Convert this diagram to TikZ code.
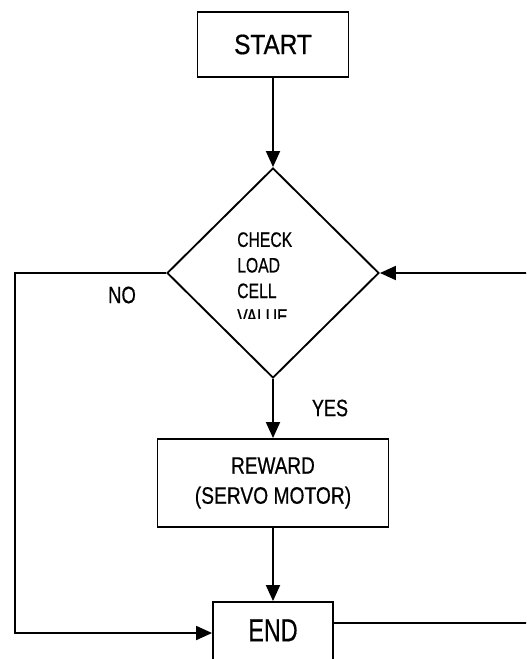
\documentclass[tikz,border=0pt]{standalone}
\usepackage{fontspec}
\setmainfont[FakeBold=0.6]{Liberation Sans}
\usetikzlibrary{shapes.geometric,arrows.meta}
\begin{document}
\begin{tikzpicture}[x=0.75pt,y=-0.75pt,
  box/.style={draw,line width=1.4pt,inner sep=0pt,rectangle},
  flow/.style={line width=1.4pt,-{Triangle[length=12pt,width=10.5pt]}},
  plain/.style={line width=1.4pt},
  lbl/.style={inner sep=0pt,text=black}]
\useasboundingbox (0,0) rectangle (526,659);
\clip (0,0) rectangle (526,659);
\fill[white] (0,0) rectangle (526,659);
\node[box,minimum width=113.25pt,minimum height=48.75pt,font=\fontsize{21}{25}\selectfont] (start) at (273,44.5)
  {\scalebox{0.87}[1]{START}};
\node[draw,line width=1.4pt,shape=diamond,inner sep=0pt,minimum width=159pt,minimum height=157.5pt] (dec) at (273,273) {};
\node[box,minimum width=173.25pt,minimum height=66pt,align=center,font=\fontsize{17.8}{22.5}\selectfont] (reward) at (273,483)
  {\scalebox{0.8}[1]{REWARD}\\\scalebox{0.81}[1]{(SERVO MOTOR)}};
\node[box,minimum width=90pt,minimum height=46.5pt,font=\fontsize{24}{28}\selectfont] (end) at (273,633)
  {\raisebox{4pt}{\scalebox{0.73}[1]{END}}};
\begin{scope}
  \clip (200,225) rectangle (360,318);
  \node[lbl,align=left,anchor=north west,font=\fontsize{15.7}{19.2}\selectfont] (dtext) at (237,232)
    {\scalebox{0.75}[1]{CHECK}\\\scalebox{0.75}[1]{LOAD}\\\scalebox{0.75}[1]{CELL}\\\scalebox{0.75}[1]{VALUE}};
\end{scope}
\node[lbl,font=\fontsize{17.8}{20}\selectfont] (no) at (122,295) {\scalebox{0.78}[1]{NO}};
\node[lbl,font=\fontsize{17.8}{20}\selectfont] (yes) at (330,408) {\scalebox{0.76}[1]{YES}};
\coordinate (nc) at (15,273);
\coordinate (rc) at (534,623);
\draw[flow] (start) -- (dec);
\draw[flow] (dec) -- (reward);
\draw[flow] (reward) -- (end);
\draw[flow] (dec.west) -- (nc) |- (end.west);
\draw[flow] ([yshift=7.5pt]end.east) -- (rc) |- (dec.east);
\end{tikzpicture}
\end{document}
